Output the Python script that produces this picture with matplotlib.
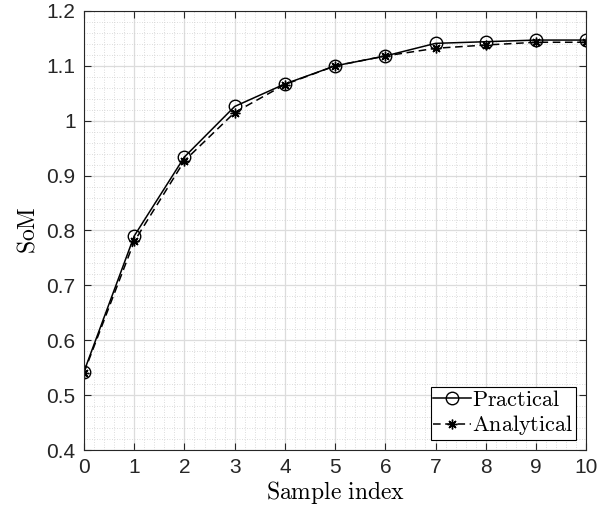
import numpy as np
import matplotlib
matplotlib.use('Agg')
import matplotlib.pyplot as plt
from matplotlib.ticker import MultipleLocator

# data
sample_idx = [0, 1, 2, 3, 4, 5, 6, 7, 8, 9, 10]
practical = [0.543, 0.790, 0.934, 1.026, 1.067, 1.100, 1.118, 1.141, 1.144, 1.147, 1.147]
analytical = [0.541, 0.780, 0.927, 1.015, 1.066, 1.100, 1.118, 1.132, 1.138, 1.143, 1.143]
ytick_labels = ['0.4', '0.5', '0.6', '0.7', '0.8', '0.9', '1', '1.1', '1.2']

plt.rcParams['font.family'] = ['Liberation Sans', 'DejaVu Sans']
plt.rcParams['mathtext.fontset'] = 'cm'

fig = plt.figure(figsize=(6, 5.13), dpi=100)
ax = fig.add_axes([0.14, 0.1228, 0.837, 0.8558])

ax.plot(sample_idx, practical, '-', color='k', lw=1.1, marker='o',
        ms=9, mfc='none', mec='k', mew=1.0, label=r'$\mathrm{Practical}$')
ax.plot(sample_idx, analytical, color='k', lw=1.1, ls=(0, (5, 3)),
        marker=(8, 2, 0), ms=7, mfc='k', mec='k', mew=1.0,
        label=r'$\mathrm{Analytical}$')

ax.set_xlim(0, 10)
ax.set_ylim(0.4, 1.2)
ax.xaxis.set_major_locator(MultipleLocator(1))
ax.xaxis.set_minor_locator(MultipleLocator(0.2))
ax.set_yticks(np.arange(0.4, 1.21, 0.1))
ax.set_yticklabels(ytick_labels)
ax.yaxis.set_minor_locator(MultipleLocator(0.02))

ax.grid(which='major', color='#dcdcdc', lw=0.9)
ax.grid(which='minor', color='#d0d0d0', lw=0.6, ls=(0, (1, 2)))
ax.set_axisbelow(True)

ax.tick_params(which='major', direction='in', top=True, right=True,
               length=5, width=0.8, labelsize=15, colors='#262626', pad=6)
ax.tick_params(which='minor', length=0, top=True, right=True)
for sp in ax.spines.values():
    sp.set_color('#262626')
    sp.set_linewidth(0.8)

ax.set_xlabel(r'$\mathrm{Sample\ index}$', fontsize=17, labelpad=1)
ax.set_ylabel(r'$\mathrm{SoM}$', fontsize=17, labelpad=5)

leg = ax.legend(loc='lower right', fontsize=16, handlelength=1.7,
                handletextpad=0.05, borderpad=0.12, borderaxespad=0.45,
                labelspacing=0.1, fancybox=False, framealpha=1,
                edgecolor='k')
leg.get_frame().set_linewidth(0.8)

fig.savefig('out.png', dpi=100)
